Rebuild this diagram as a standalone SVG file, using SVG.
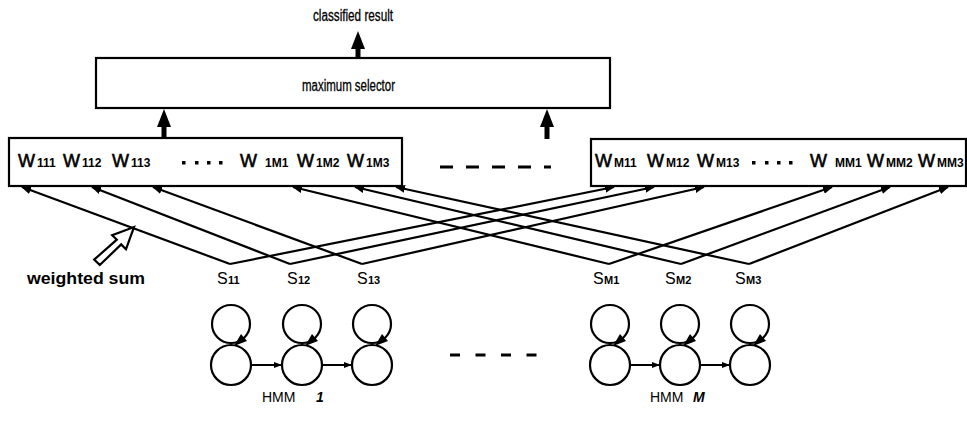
<svg xmlns="http://www.w3.org/2000/svg" width="967" height="432" viewBox="0 0 967 432">
  <style>
    text { font-family: "Liberation Sans", Arial, sans-serif; fill: #000; }
    .box { fill: #fff; stroke: #000; stroke-width: 2.2; }
    .wire { fill: none; stroke: #000; stroke-width: 2.2; marker-end: url(#tip); }
    .bold-up { fill: none; stroke: #000; stroke-width: 5; }
    .state { fill: none; stroke: #000; stroke-width: 2.2; }
    .dash { stroke: #000; stroke-width: 3; fill: none; }
    .w { font-size: 18px; stroke: #000; stroke-width: 0.6; }
    .sub { font-size: 12px; font-weight: bold; }
    .s { font-size: 16px; }
    .ssub { font-size: 11px; font-weight: bold; }
    .dot { fill: #000; }
    .heavy { stroke: #000; stroke-width: 0.3; }
  </style>
  <defs>
    <marker id="tip" viewBox="0 0 10 8" refX="9" refY="4" markerWidth="10" markerHeight="8" markerUnits="userSpaceOnUse" orient="auto">
      <path d="M0,0 L10,4 L0,8 Z" fill="#000"/>
    </marker>
    <marker id="tip-small" viewBox="0 0 8 6" refX="8" refY="3" markerWidth="8" markerHeight="6" markerUnits="userSpaceOnUse" orient="auto">
      <path d="M0,0 L8,3 L0,6 Z" fill="#000"/>
    </marker>
  </defs>

  <!-- output label and selector -->
  <g id="result">
    <text class="heavy" x="313" y="21" font-size="16" textLength="80" lengthAdjust="spacingAndGlyphs">classified result</text>
  </g>
  <g id="selector">
    <rect class="box" x="96" y="58" width="514" height="50"/>
    <text class="heavy" x="302" y="91" font-size="16" textLength="93" lengthAdjust="spacingAndGlyphs">maximum selector</text>
  </g>

  <!-- weight bank of model 1 -->
  <g id="weights-1">
    <rect class="box" x="9" y="138" width="393" height="48"/>
    <text y="167"><tspan class="w" x="18">W</tspan><tspan class="sub" x="37">111</tspan></text>
    <text y="167"><tspan class="w" x="63">W</tspan><tspan class="sub" x="82">112</tspan></text>
    <text y="167"><tspan class="w" x="112">W</tspan><tspan class="sub" x="131">113</tspan></text>
    <rect class="dot" x="182" y="161" width="3.5" height="3.5"/>
    <rect class="dot" x="195" y="161" width="3.5" height="3.5"/>
    <rect class="dot" x="207" y="161" width="3.5" height="3.5"/>
    <rect class="dot" x="219" y="161" width="3.5" height="3.5"/>
    <text y="167"><tspan class="w" x="240">W</tspan><tspan class="sub" x="265">1M1</tspan></text>
    <text y="167"><tspan class="w" x="297">W</tspan><tspan class="sub" x="316">1M2</tspan></text>
    <text y="167"><tspan class="w" x="347">W</tspan><tspan class="sub" x="366">1M3</tspan></text>
  </g>

  <!-- weight bank of model M -->
  <g id="weights-M">
    <rect class="box" x="591" y="139" width="375" height="47"/>
    <text y="167"><tspan class="w" x="595">W</tspan><tspan class="sub" x="614">M11</tspan></text>
    <text y="167"><tspan class="w" x="647">W</tspan><tspan class="sub" x="666">M12</tspan></text>
    <text y="167"><tspan class="w" x="697">W</tspan><tspan class="sub" x="716">M13</tspan></text>
    <rect class="dot" x="752" y="161" width="3.5" height="3.5"/>
    <rect class="dot" x="765" y="161" width="3.5" height="3.5"/>
    <rect class="dot" x="777" y="161" width="3.5" height="3.5"/>
    <rect class="dot" x="789" y="161" width="3.5" height="3.5"/>
    <text y="167"><tspan class="w" x="810">W</tspan><tspan class="sub" x="835">MM1</tspan></text>
    <text y="167"><tspan class="w" x="867">W</tspan><tspan class="sub" x="886">MM2</tspan></text>
    <text y="167"><tspan class="w" x="918">W</tspan><tspan class="sub" x="937">MM3</tspan></text>
  </g>

  <!-- state labels -->
  <g id="states-1">
    <text y="284"><tspan class="s" x="217">S</tspan><tspan class="ssub" x="228">11</tspan></text>
    <text y="284"><tspan class="s" x="287">S</tspan><tspan class="ssub" x="298">12</tspan></text>
    <text y="284"><tspan class="s" x="357">S</tspan><tspan class="ssub" x="368">13</tspan></text>
  </g>
  <g id="states-M">
    <text y="284"><tspan class="s" x="593">S</tspan><tspan class="ssub" x="604">M1</tspan></text>
    <text y="284"><tspan class="s" x="665">S</tspan><tspan class="ssub" x="676">M2</tspan></text>
    <text y="284"><tspan class="s" x="735">S</tspan><tspan class="ssub" x="746">M3</tspan></text>
  </g>

  <!-- weighted sum note -->
  <g id="weighted-sum">
    <path d="M99.8,265 L121.2,244.4 L126,249.2 L134,227 L112.2,235.2 L116.8,239.6 L94.2,259.6 Z" fill="#fff" stroke="#000" stroke-width="2.2"/>
    <text x="27" y="284" font-size="16" font-weight="bold" textLength="118" lengthAdjust="spacingAndGlyphs">weighted sum</text>
  </g>

  <!-- model 1 chain -->
  <g id="hmm-1">
    <circle class="state" cx="231" cy="324" r="19"/>
    <circle class="state" cx="231" cy="365" r="20"/>
    <circle class="state" cx="302" cy="324" r="19"/>
    <circle class="state" cx="302" cy="365" r="20"/>
    <circle class="state" cx="372" cy="324" r="19"/>
    <circle class="state" cx="372" cy="365" r="20"/>
    <path d="M234,346 L241,334 L247,341 Z"/>
    <path d="M305,346 L312,334 L318,341 Z"/>
    <path d="M375,346 L382,334 L388,341 Z"/>
    <line x1="251" y1="365" x2="282" y2="365" stroke="#000" stroke-width="2" marker-end="url(#tip-small)"/>
    <line x1="322" y1="365" x2="352" y2="365" stroke="#000" stroke-width="2" marker-end="url(#tip-small)"/>
    <text y="402" font-size="14"><tspan x="262">HMM</tspan><tspan x="316" font-weight="bold" font-style="italic">1</tspan></text>
  </g>

  <!-- model M chain -->
  <g id="hmm-M">
    <circle class="state" cx="610" cy="324" r="19"/>
    <circle class="state" cx="610" cy="365" r="20"/>
    <circle class="state" cx="680" cy="324" r="19"/>
    <circle class="state" cx="680" cy="365" r="20"/>
    <circle class="state" cx="750" cy="324" r="19"/>
    <circle class="state" cx="750" cy="365" r="20"/>
    <path d="M613,346 L620,334 L626,341 Z"/>
    <path d="M683,346 L690,334 L696,341 Z"/>
    <path d="M753,346 L760,334 L766,341 Z"/>
    <line x1="630" y1="365" x2="660" y2="365" stroke="#000" stroke-width="2" marker-end="url(#tip-small)"/>
    <line x1="700" y1="365" x2="730" y2="365" stroke="#000" stroke-width="2" marker-end="url(#tip-small)"/>
    <text y="402" font-size="14"><tspan x="650">HMM</tspan><tspan x="693" font-weight="bold" font-style="italic">M</tspan></text>
  </g>

  <!-- ellipses between the two models -->
  <g id="gaps">
    <line class="dash" x1="440" y1="167" x2="551" y2="167" stroke-dasharray="13 13"/>
    <line class="dash" x1="450" y1="355" x2="538" y2="355" stroke-dasharray="10 15.5"/>
  </g>

  <g id="connectors">
    <!-- bold arrows into the selector and out of it -->
    <line class="bold-up" x1="164" y1="138" x2="164" y2="124"/>
    <path d="M157,127 L164,109 L171,127 Z"/>
    <line class="bold-up" x1="547" y1="139" x2="547" y2="124"/>
    <path d="M540,127 L547,109 L554,127 Z"/>
    <line class="bold-up" x1="358" y1="58" x2="358" y2="46"/>
    <path d="M351,49 L358,31 L365,49 Z"/>

    <!-- state outputs to weights -->
    <polyline class="wire" points="230,264 22,187"/>
    <polyline class="wire" points="290,264 92,187"/>
    <polyline class="wire" points="362,264 153,187"/>
    <polyline class="wire" points="609,264 293,187"/>
    <polyline class="wire" points="681,264 355,187"/>
    <polyline class="wire" points="749,264 396,187"/>
    <line class="wire" x1="230" y1="264" x2="614" y2="187"/>
    <line class="wire" x1="290" y1="264" x2="654" y2="187"/>
    <line class="wire" x1="362" y1="264" x2="704" y2="187"/>
    <line class="wire" x1="609" y1="264" x2="832" y2="187"/>
    <line class="wire" x1="681" y1="264" x2="890" y2="187"/>
    <line class="wire" x1="749" y1="264" x2="948" y2="187"/>
  </g>
</svg>
